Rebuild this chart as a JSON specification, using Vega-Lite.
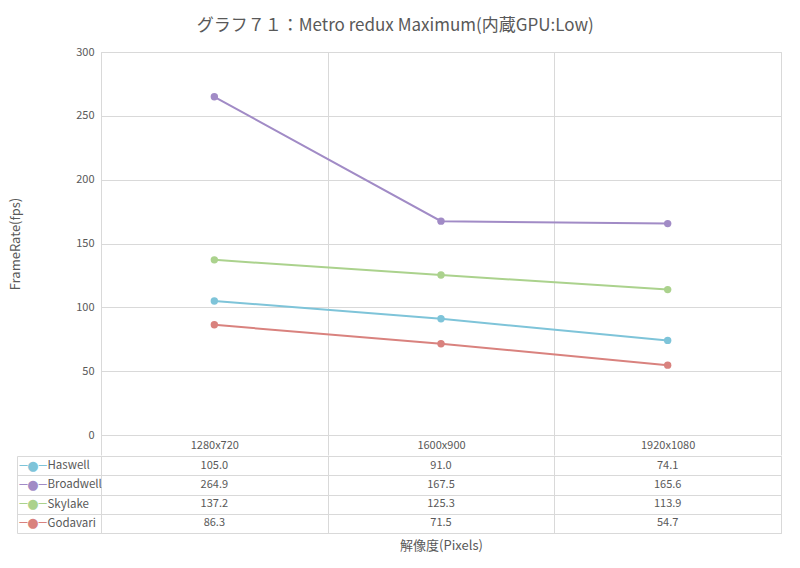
{
  "$schema": "https://vega.github.io/schema/vega-lite/v6.json",
  "padding": {"left": 8, "top": 16, "right": 10, "bottom": 10},
  "background": "white",
  "title": {"text": "グラフ７１：Metro redux Maximum(内蔵GPU:Low)", "fontSize": 17, "fontWeight": "normal", "color": "#595959", "font": "Noto Sans CJK JP", "anchor": "middle", "offset": 11},
  "data": {"values": [
    {"res": "1280x720", "cpu": "Haswell", "fps": 105.0},
    {"res": "1280x720", "cpu": "Broadwell", "fps": 264.9},
    {"res": "1280x720", "cpu": "Skylake", "fps": 137.2},
    {"res": "1280x720", "cpu": "Godavari", "fps": 86.3},
    {"res": "1600x900", "cpu": "Haswell", "fps": 91.0},
    {"res": "1600x900", "cpu": "Broadwell", "fps": 167.5},
    {"res": "1600x900", "cpu": "Skylake", "fps": 125.3},
    {"res": "1600x900", "cpu": "Godavari", "fps": 71.5},
    {"res": "1920x1080", "cpu": "Haswell", "fps": 74.1},
    {"res": "1920x1080", "cpu": "Broadwell", "fps": 165.6},
    {"res": "1920x1080", "cpu": "Skylake", "fps": 113.9},
    {"res": "1920x1080", "cpu": "Godavari", "fps": 54.7}
  ]},
  "spacing": -7,
  "config": {
    "font": "Noto Sans CJK JP",
    "view": {"stroke": "#d9d9d9"},
    "axis": {"labelColor": "#595959", "titleColor": "#595959", "titleFontWeight": "normal", "labelFontSize": 11, "titleFontSize": 13, "gridColor": "#d9d9d9", "tickColor": "#d9d9d9", "domainColor": "#d9d9d9"}
  },
  "vconcat": [
    {
      "width": 680,
      "height": 383,
      "mark": {"type": "line", "strokeWidth": 2, "point": {"filled": true, "size": 55, "opacity": 1}},
      "encoding": {
        "x": {"field": "res", "type": "nominal", "sort": ["1280x720", "1600x900", "1920x1080"],
          "scale": {"type": "band", "paddingInner": 0, "paddingOuter": 0},
          "axis": {"title": null, "grid": true, "tickBand": "extent", "domain": false, "ticks": true, "tickSize": 20, "labelPadding": -16, "labelAngle": 0, "labelBaseline": "top"}},
        "y": {"field": "fps", "type": "quantitative", "scale": {"domain": [0, 300]},
          "axis": {"title": "FrameRate(fps)", "values": [0, 50, 100, 150, 200, 250, 300], "grid": true, "domain": false, "ticks": false, "labelPadding": 7, "minExtent": 79, "maxExtent": 79, "titlePadding": 0}},
        "color": {"field": "cpu", "type": "nominal",
          "scale": {"domain": ["Haswell", "Broadwell", "Skylake", "Godavari"], "range": ["#7ec4d9", "#a18bc6", "#abd28d", "#d9827e"]},
          "legend": null}
      }
    },
    {
      "width": 680,
      "height": 77,
      "layer": [
        {
          "mark": {"type": "text", "fontSize": 11, "color": "#595959"},
          "encoding": {
            "x": {"field": "res", "type": "nominal", "sort": ["1280x720", "1600x900", "1920x1080"],
              "scale": {"type": "band", "paddingInner": 0, "paddingOuter": 0},
              "axis": {"title": "解像度(Pixels)", "labels": false, "ticks": false, "domain": false, "grid": true, "tickBand": "extent", "titlePadding": 6}},
            "y": {"field": "cpu", "type": "nominal", "sort": ["Haswell", "Broadwell", "Skylake", "Godavari"],
              "scale": {"type": "band", "paddingInner": 0, "paddingOuter": 0},
              "axis": {"title": null, "grid": true, "tickBand": "extent", "domain": false, "ticks": true, "tickSize": 84, "labelAlign": "left", "labelPadding": -30, "labelFontSize": 11.5}},
            "text": {"field": "fps", "type": "quantitative", "format": ".1f"}
          }
        },
        {
          "mark": {"type": "text", "opacity": 0},
          "encoding": {
            "y": {"field": "cpu", "type": "nominal", "sort": ["Haswell", "Broadwell", "Skylake", "Godavari"],
              "scale": {"type": "band", "paddingInner": 0, "paddingOuter": 0},
              "axis": {"orient": "left", "offset": 84, "title": null, "domain": true, "ticks": false, "tickSize": 0, "grid": false, "labelAlign": "left", "labelPadding": -2, "labelExpr": "'─●─'", "labelFont": "DejaVu Sans", "labelFontSize": 13,
                "labelColor": {"condition": [
                  {"test": "datum.value === 'Haswell'", "value": "#7ec4d9"},
                  {"test": "datum.value === 'Broadwell'", "value": "#a18bc6"},
                  {"test": "datum.value === 'Skylake'", "value": "#abd28d"}
                ], "value": "#d9827e"}}},
            "text": {"value": ""}
          }
        }
      ],
      "resolve": {"axis": {"y": "independent"}}
    }
  ]
}
